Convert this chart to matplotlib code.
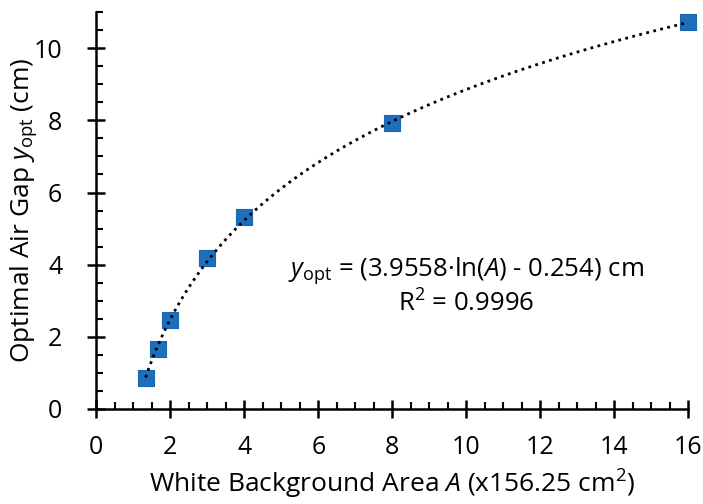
import numpy as np
import matplotlib
matplotlib.use("Agg")
import matplotlib.pyplot as plt
from matplotlib.ticker import MultipleLocator

FONT = "Open Sans"
plt.rcParams['font.family'] = [FONT, 'DejaVu Sans']
plt.rcParams['mathtext.fontset'] = 'custom'
plt.rcParams['mathtext.rm'] = FONT
plt.rcParams['mathtext.it'] = FONT + ':italic'
plt.rcParams['mathtext.bf'] = FONT + ':bold'

# Data
area = [1.33, 1.67, 2.0, 3.0, 4.0, 8.0, 16.0]
air_gap = [0.86, 1.66, 2.47, 4.18, 5.33, 7.92, 10.72]

# Trendline coefficients (as printed on the chart)
fit_a = 3.9558
fit_b = -0.254

fig = plt.figure(figsize=(7.03, 5.04), dpi=100)
ax = fig.add_axes([0.137, 0.1885, 0.842, 0.7875])

xt = np.linspace(min(area), max(area), 300)
ax.plot(xt, fit_a * np.log(xt) + fit_b, color='black', linestyle=(0, (1, 1.6)),
        linewidth=2.0, zorder=3, clip_on=False)
ax.scatter(area, air_gap, marker='s', s=120, color='#1D6FBD', edgecolors='#1A65AD',
           linewidths=0.8, zorder=2, clip_on=False)

ax.set_xlim(0, 16)
ax.set_ylim(0, 11)
ax.xaxis.set_major_locator(MultipleLocator(2))
ax.xaxis.set_minor_locator(MultipleLocator(0.5))
ax.yaxis.set_major_locator(MultipleLocator(2))
ax.yaxis.set_minor_locator(MultipleLocator(0.5))

for s in ['top', 'right']:
    ax.spines[s].set_visible(False)
for s in ['left', 'bottom']:
    ax.spines[s].set_linewidth(1.8)

ax.tick_params(which='major', direction='inout', length=13, width=1.8,
               labelsize=18, colors='black')
ax.tick_params(axis='x', which='major', pad=12)
ax.tick_params(axis='y', which='major', pad=18)
ax.tick_params(which='minor', direction='in', length=5, width=1.5)

ax.set_xlabel(r'White Background Area $\mathit{A}$ (x156.25 cm$^2$)', fontsize=19)
ax.set_ylabel(r'Optimal Air Gap $\mathit{y}_{\mathrm{opt}}$ (cm)', fontsize=19)
ax.xaxis.set_label_coords(0.5, -0.148)
ax.yaxis.set_label_coords(-0.097, 0.5)

ax.text(0.625, 0.35, r'$\mathit{y}_{\mathrm{opt}}$ = (3.9558·ln($\mathit{A}$) - 0.254) cm',
        transform=ax.transAxes, ha='center', va='center', fontsize=18.5)
ax.text(0.625, 0.264, r'R$^2$ = 0.9996', transform=ax.transAxes,
        ha='center', va='center', fontsize=18.5)

fig.savefig('out.png', dpi=100)
